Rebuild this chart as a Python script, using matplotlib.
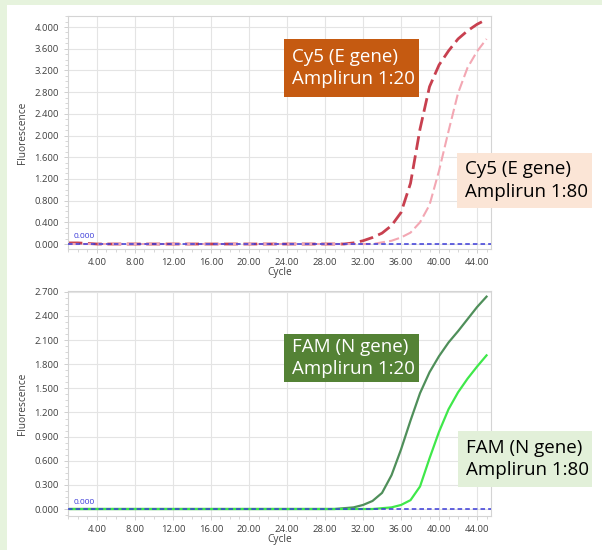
import matplotlib
matplotlib.use('Agg')
from matplotlib import pyplot as plt
from matplotlib.patches import Rectangle
from matplotlib.ticker import MultipleLocator, FormatStrFormatter
import numpy as np

# cycles 1..45
cycles = np.arange(1, 46)

# Cy5 (E gene) curves, top panel
cy5_1_20 = [0.02, 0.02, 0.01] + [0.0] * 27 + [0.02, 0.06, 0.12, 0.2, 0.34, 0.58, 1.12, 2.12,
                                              2.9, 3.3, 3.56, 3.78, 3.93, 4.05, 4.14]
cy5_1_80 = [0.0] * 33 + [0.03, 0.06, 0.12, 0.21, 0.4, 0.72, 1.35, 2.08, 2.78, 3.25, 3.55, 3.78]

# FAM (N gene) curves, bottom panel
fam_1_20 = [0.0] * 29 + [0.01, 0.02, 0.05, 0.1, 0.2, 0.42, 0.74, 1.1, 1.44, 1.7, 1.9,
                         2.07, 2.21, 2.36, 2.51, 2.64]
fam_1_80 = [0.0] * 33 + [0.01, 0.02, 0.05, 0.11, 0.28, 0.63, 0.96, 1.24, 1.45, 1.62, 1.77, 1.91]

threshold = 0.0
top_yticks = np.arange(0, 4.01, 0.4)
bot_yticks = np.arange(0, 2.71, 0.3)
xticks = np.arange(4, 45, 4)

plt.rcParams['font.family'] = ['Open Sans', 'DejaVu Sans']

fig = plt.figure(figsize=(6.02, 5.5), dpi=100)
fig.patch.set_facecolor('#e6f3dd')
fig.patches.append(Rectangle((7 / 602, 0), 1, 1 - 5 / 550, transform=fig.transFigure,
                             facecolor='white', edgecolor='none', zorder=-5))


def style_axes(ax, yticks, ylim):
    ax.set_xlim(0.95, 45.47)
    ax.set_ylim(*ylim)
    ax.set_xticks(xticks)
    ax.set_yticks(yticks)
    ax.xaxis.set_minor_locator(MultipleLocator(1))
    ax.yaxis.set_minor_locator(MultipleLocator(yticks[1] / 4))
    ax.xaxis.set_major_formatter(FormatStrFormatter('%.2f'))
    ax.yaxis.set_major_formatter(FormatStrFormatter('%.3f'))
    ax.grid(True, which='major', color='#e4e4e4', linewidth=0.8)
    ax.tick_params(axis='both', which='major', labelsize=6.8, colors='#c8c8c8',
                   labelcolor='#404040', length=3, width=0.6)
    ax.tick_params(axis='both', which='minor', colors='#c8c8c8', length=2, width=0.5)
    for s in ax.spines.values():
        s.set_color('#d4d4d4')
        s.set_linewidth(0.8)
    ax.set_xlabel('Cycle', fontsize=7.3, color='#404040', labelpad=0)
    ax.set_ylabel('Fluorescence', fontsize=7.3, color='#404040', labelpad=5)
    ax.axhline(threshold, color='#3a3ad8', linestyle=(0, (3, 2)), linewidth=1.1, zorder=5)
    ax.text(1.5, 0.025 * ylim[1], '0.000', fontsize=6, color='#3a3ad8', zorder=6)


def label_box(x0, y0, x1, y1, lines, face, color):
    fig.patches.append(Rectangle((x0 / 602, 1 - y1 / 550), (x1 - x0) / 602, (y1 - y0) / 550,
                                 transform=fig.transFigure, facecolor=face,
                                 edgecolor='none', zorder=3))
    fig.text((x0 + 8) / 602, 1 - (y0 + y1) / 2 / 550, '\n'.join(lines), ha='left', va='center',
             fontsize=13.5, color=color, linespacing=1.3, zorder=4)


ax1 = fig.add_axes([68 / 602, 1 - 249 / 550, 423 / 602, 233 / 550])
ax1.plot(cycles, cy5_1_20, color='#c8404f', linestyle=(0, (5, 2)), linewidth=2.0)
ax1.plot(cycles, cy5_1_80, color='#f3a7b3', linestyle=(0, (5, 2)), linewidth=1.5)
style_axes(ax1, top_yticks, (-0.092, 4.203))

ax2 = fig.add_axes([68 / 602, 1 - 516 / 550, 423 / 602, 225 / 550])
ax2.plot(cycles, fam_1_20, color='#4f8f5a', linewidth=1.6)
ax2.plot(cycles, fam_1_80, color='#3fe84a', linewidth=1.6)
style_axes(ax2, bot_yticks, (-0.087, 2.71))

label_box(284, 39, 419, 97, ['Cy5 (E gene)', 'Amplirun 1:20'], '#c55a11', 'white')
label_box(457, 153, 592, 208, ['Cy5 (E gene)', 'Amplirun 1:80'], '#fbe5d6', 'black')
label_box(284, 334, 419, 382, ['FAM (N gene)', 'Amplirun 1:20'], '#548235', 'white')
label_box(458, 431, 592, 487, ['FAM (N gene)', 'Amplirun 1:80'], '#e2f0d9', 'black')

fig.savefig('out.png', dpi=100)
